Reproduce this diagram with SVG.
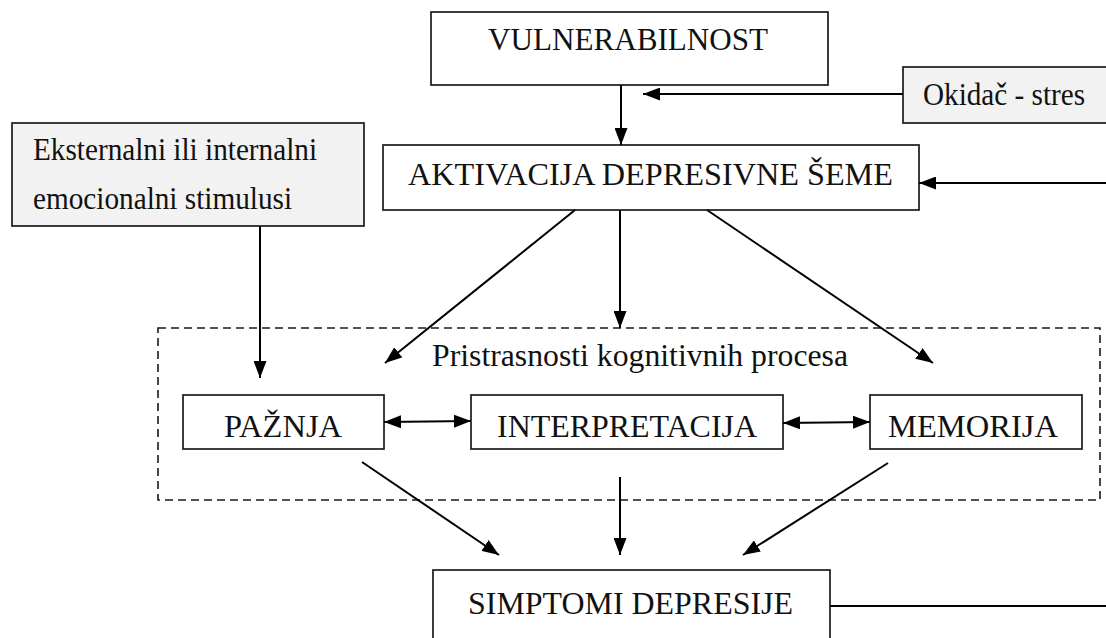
<svg xmlns="http://www.w3.org/2000/svg" width="1106" height="638" viewBox="0 0 1106 638">
  <style>
    .box { fill: #ffffff; stroke: #1a1a1a; stroke-width: 1.7; }
    .grey { fill: #f2f2f2; stroke: #1a1a1a; stroke-width: 1.7; }
    .group { fill: none; stroke: #1a1a1a; stroke-width: 1.6; stroke-dasharray: 8 5; }
    .lbl { font-family: "Liberation Serif", "Times New Roman", serif; font-size: 31px; fill: #111111; }
    .wire { fill: none; stroke: #000000; stroke-width: 2; }
    .arr { marker-end: url(#head); }
    .both { marker-start: url(#head); marker-end: url(#head); }
  </style>
  <defs>
    <marker id="head" viewBox="0 0 17 13" refX="17" refY="6.5" markerWidth="17" markerHeight="13" markerUnits="userSpaceOnUse" orient="auto-start-reverse">
      <path d="M0,0 L17,6.5 L0,13 z" fill="#000000"/>
    </marker>
  </defs>
  <rect width="1106" height="638" fill="#ffffff"/>

  <!-- dashed frame around the cognitive processes -->
  <g id="cognitive-biases">
    <rect class="group" x="158" y="328" width="942" height="172"/>
    <text class="lbl" x="432" y="366" textLength="416" lengthAdjust="spacingAndGlyphs">Pristrasnosti kognitivnih procesa</text>
  </g>

  <g id="vulnerability">
    <rect class="box" x="431" y="12" width="397" height="73"/>
    <text class="lbl" x="488" y="50" textLength="280" lengthAdjust="spacingAndGlyphs">VULNERABILNOST</text>
  </g>

  <g id="trigger">
    <rect class="grey" x="903" y="67" width="210" height="56"/>
    <text class="lbl" x="923" y="105" textLength="162" lengthAdjust="spacingAndGlyphs">Okidač - stres</text>
  </g>

  <g id="schema-activation">
    <rect class="box" x="383" y="145" width="536" height="65"/>
    <text class="lbl" x="408" y="185" textLength="485" lengthAdjust="spacingAndGlyphs">AKTIVACIJA DEPRESIVNE ŠEME</text>
  </g>

  <g id="stimuli">
    <rect class="grey" x="12" y="123" width="352" height="103"/>
    <text class="lbl" x="33" y="160" textLength="284" lengthAdjust="spacingAndGlyphs">Eksternalni ili internalni</text>
    <text class="lbl" x="33" y="209" textLength="259" lengthAdjust="spacingAndGlyphs">emocionalni stimulusi</text>
  </g>

  <g id="attention">
    <rect class="box" x="183" y="395" width="201" height="54"/>
    <text class="lbl" x="224" y="437" textLength="118" lengthAdjust="spacingAndGlyphs">PAŽNJA</text>
  </g>

  <g id="interpretation">
    <rect class="box" x="471" y="395" width="312" height="54"/>
    <text class="lbl" x="497" y="437" textLength="260" lengthAdjust="spacingAndGlyphs">INTERPRETACIJA</text>
  </g>

  <g id="memory">
    <rect class="box" x="870" y="395" width="212" height="54"/>
    <text class="lbl" x="888" y="437" textLength="170" lengthAdjust="spacingAndGlyphs">MEMORIJA</text>
  </g>

  <g id="symptoms">
    <rect class="box" x="433" y="570" width="397" height="80"/>
    <text class="lbl" x="468" y="614" textLength="325" lengthAdjust="spacingAndGlyphs">SIMPTOMI DEPRESIJE</text>
  </g>

  <g id="connectors">
    <line class="wire arr" x1="621" y1="85" x2="621" y2="145"/>
    <line class="wire arr" x1="903" y1="94" x2="643" y2="94"/>
    <line class="wire arr" x1="1106" y1="183" x2="919" y2="183"/>
    <line class="wire arr" x1="260" y1="226" x2="260" y2="378"/>
    <line class="wire arr" x1="575" y1="210" x2="385" y2="363"/>
    <line class="wire arr" x1="620" y1="210" x2="620" y2="328"/>
    <line class="wire arr" x1="707" y1="210" x2="933" y2="363"/>
    <line class="wire both" x1="384" y1="422" x2="471" y2="421"/>
    <line class="wire both" x1="783" y1="423" x2="870" y2="422"/>
    <line class="wire arr" x1="362" y1="462" x2="499" y2="555"/>
    <line class="wire arr" x1="620" y1="477" x2="620" y2="555"/>
    <line class="wire arr" x1="888" y1="463" x2="743" y2="555"/>
    <line class="wire" x1="830" y1="606" x2="1106" y2="606"/>
  </g>
</svg>
